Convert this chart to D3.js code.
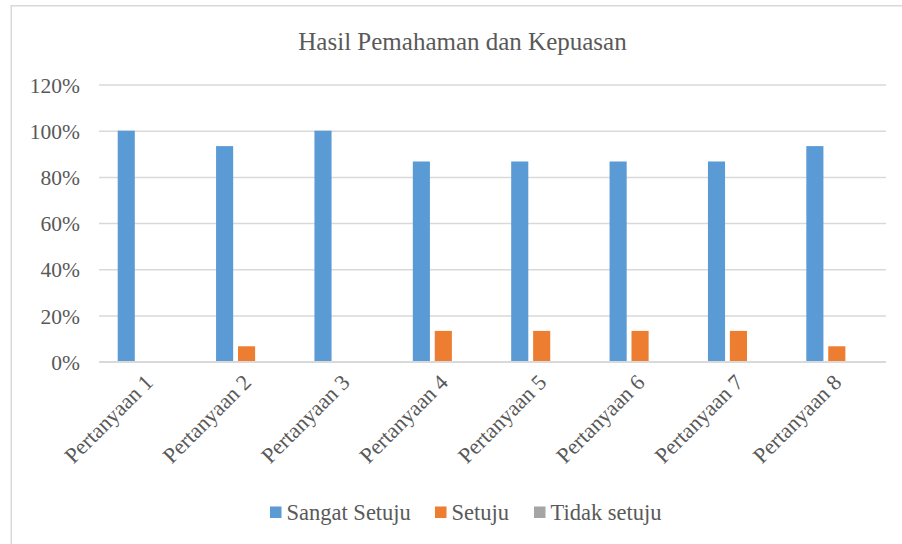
<!DOCTYPE html>
<html>
<head>
<meta charset="utf-8">
<script src="https://cdn.jsdelivr.net/npm/d3@7"></script>
<style>
  html, body { margin: 0; padding: 0; background: #fff; }
  svg { display: block; }
  svg text { font-family: "Liberation Serif", "DejaVu Serif", serif !important; fill: #595959; }
</style>
</head>
<body>
<svg id="chart" width="902" height="544"></svg>
<script>
const title = "Hasil Pemahaman dan Kepuasan";
const categories = ["Pertanyaan 1","Pertanyaan 2","Pertanyaan 3","Pertanyaan 4","Pertanyaan 5","Pertanyaan 6","Pertanyaan 7","Pertanyaan 8"];
const seriesNames = ["Sangat Setuju","Setuju","Tidak setuju"];
const sangatSetuju = [1.0, 0.9333, 1.0, 0.8667, 0.8667, 0.8667, 0.8667, 0.9333];
const setuju = [0, 0.0667, 0, 0.1333, 0.1333, 0.1333, 0.1333, 0.0667];
const tidakSetuju = [0, 0, 0, 0, 0, 0, 0, 0];
const yTicks = [0, 0.2, 0.4, 0.6, 0.8, 1.0, 1.2];
const colors = ["#5B9BD5", "#ED7D31", "#A5A5A5"];

const seriesValues = [sangatSetuju, setuju, tidakSetuju];
const FONT = '"Liberation Serif", "DejaVu Serif", serif';

const svg = d3.select("#chart");

// chart border
svg.append("rect")
  .attr("x", 11.25).attr("y", 5.75)
  .attr("width", 1000).attr("height", 1000)
  .attr("fill", "none").attr("stroke", "#d9d9d9").attr("stroke-width", 1.5);

const plot = { left: 99, right: 886, top: 84.5, bottom: 361.7 };

const x0 = d3.scaleBand().domain(categories).range([plot.left, plot.right]).paddingInner(0).paddingOuter(0);
const groupPad = (x0.bandwidth() - 61) / 2;
const x1 = d3.scaleBand().domain(seriesNames).range([groupPad, groupPad + 61]).paddingInner(0.22).paddingOuter(0);
const y = d3.scaleLinear().domain([0, 1.2]).range([plot.bottom, plot.top]);

// title
svg.append("text")
  .attr("x", 462.5).attr("y", 50)
  .attr("text-anchor", "middle")
  .attr("font-family", FONT)
  .style("font-size", "25px")
  .text(title);

// gridlines + y axis
const yAxis = d3.axisLeft(y).tickValues(yTicks).tickFormat(d3.format(".0%"))
  .tickSize(-(plot.right - plot.left)).tickPadding(19);
const yg = svg.append("g").attr("transform", `translate(${plot.left},0)`).call(yAxis)
  .attr("font-family", FONT);
yg.select(".domain").remove();
yg.selectAll(".tick line").attr("stroke", "#d9d9d9").attr("stroke-width", 1.5);
yg.selectAll(".tick text")
  .attr("fill", "#595959")
  .style("font-size", "21.5px")
  .attr("dy", "0.35em");

// bars
const groups = svg.append("g").selectAll("g")
  .data(categories)
  .join("g")
  .attr("transform", d => `translate(${x0(d)},0)`);

groups.selectAll("rect")
  .data((d, i) => seriesNames.map((s, j) => ({ s, v: seriesValues[j][i], c: colors[j] })))
  .join("rect")
  .attr("x", d => x1(d.s))
  .attr("width", x1.bandwidth())
  .attr("y", d => y(d.v))
  .attr("height", d => y(0) - y(d.v))
  .attr("fill", d => d.c);

// x axis baseline
svg.append("line")
  .attr("x1", plot.left).attr("x2", plot.right)
  .attr("y1", y(0)).attr("y2", y(0))
  .attr("stroke", "#d9d9d9").attr("stroke-width", 1.5);

// x labels rotated
const xAxis = d3.axisBottom(x0).tickSize(0).tickPadding(0);
const xg = svg.append("g").attr("transform", `translate(0,${y(0)})`).call(xAxis)
  .attr("font-family", FONT);
xg.select(".domain").remove();
xg.selectAll(".tick text")
  .attr("fill", "#595959")
  .style("font-size", "22px")
  .attr("text-anchor", "end")
  .attr("dy", null)
  .attr("y", 0)
  .attr("transform", "translate(6,22) rotate(-45)");

// legend
const legendItems = [
  { name: seriesNames[0], color: colors[0], x: 270 },
  { name: seriesNames[1], color: colors[1], x: 435 },
  { name: seriesNames[2], color: colors[2], x: 534 }
];
const lg = svg.append("g").attr("font-family", FONT).selectAll("g").data(legendItems).join("g")
  .attr("transform", d => `translate(${d.x},512.5)`);
lg.append("rect").attr("x", 0).attr("y", -6).attr("width", 11.5).attr("height", 11.5).attr("fill", d => d.color);
lg.append("text").attr("x", 16.5).attr("y", 0).attr("dy", "0.35em")
  .style("font-size", "22.5px").text(d => d.name);
</script>
</body>
</html>
